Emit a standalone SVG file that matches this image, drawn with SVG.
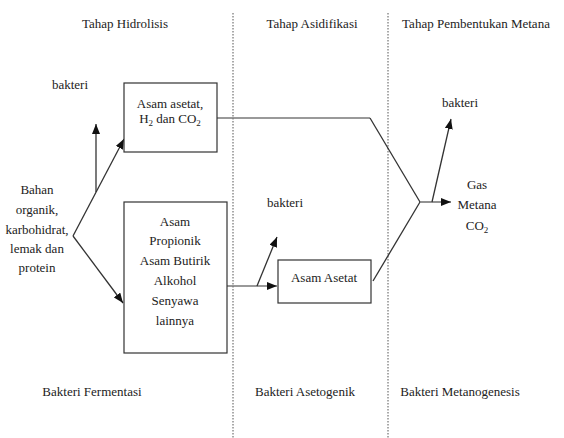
<svg xmlns="http://www.w3.org/2000/svg" width="564" height="438" viewBox="0 0 564 438" font-family="'Liberation Serif', 'DejaVu Serif', serif">
<style>
text{font-family:'Liberation Serif','DejaVu Serif',serif;font-size:13px;fill:#222;text-anchor:middle}
.box{fill:#fff;stroke:#333;stroke-width:1.2}
.div{stroke:#555;stroke-width:1;stroke-dasharray:1.5,1.5;fill:none}
.ln{stroke:#333;stroke-width:1.3;fill:none}
.gl{stroke:#777;stroke-width:1.6;fill:none}
</style>
<defs>
<marker id="ah" markerUnits="userSpaceOnUse" markerWidth="10" markerHeight="8" refX="10" refY="4" orient="auto">
<path d="M0,0 L10,4 L0,8 z" fill="#111"/>
</marker>
</defs>
<rect width="564" height="438" fill="#fff"/>
<g id="dividers">
<line class="div" x1="233" y1="13" x2="233" y2="438"/>
<line class="div" x1="388" y1="13" x2="388" y2="438"/>
</g>
<g id="headers">
<text x="125" y="28">Tahap Hidrolisis</text>
<text x="312" y="28">Tahap Asidifikasi</text>
<text x="476" y="28">Tahap Pembentukan Metana</text>
</g>
<g id="connectors">
<line class="ln" x1="73" y1="236" x2="124" y2="139" marker-end="url(#ah)"/>
<line class="ln" x1="96" y1="192" x2="96" y2="124" marker-end="url(#ah)"/>
<line class="ln" x1="73" y1="236" x2="123" y2="303" marker-end="url(#ah)"/>
<polyline class="gl" points="217,118 370,118"/>
<polyline class="ln" points="370,118 420,202"/>
<line class="gl" x1="227" y1="286" x2="277" y2="286" marker-end="url(#ah)"/>
<line class="ln" x1="257" y1="286" x2="277" y2="237" marker-end="url(#ah)"/>
<line class="ln" x1="373" y1="281" x2="420" y2="202"/>
<line class="gl" x1="420" y1="202" x2="451" y2="202" marker-end="url(#ah)"/>
<line class="ln" x1="432" y1="202" x2="451" y2="119" marker-end="url(#ah)"/>
</g>
<g id="bahan">
<text x="37" y="194">Bahan</text>
<text x="37" y="214">organik,</text>
<text x="37" y="234">karbohidrat,</text>
<text x="37" y="253">lemak dan</text>
<text x="37" y="272">protein</text>
</g>
<g id="bakteri1"><text x="70" y="89">bakteri</text></g>
<g id="box1">
<rect class="box" x="124" y="83" width="93" height="69"/>
<text x="170" y="108">Asam asetat,</text>
<text x="170" y="123">H<tspan font-size="9" dy="3">2</tspan><tspan dy="-3"> dan CO</tspan><tspan font-size="9" dy="3">2</tspan></text>
</g>
<g id="box2">
<rect class="box" x="124" y="202" width="103" height="151"/>
<text x="175" y="226">Asam</text>
<text x="175" y="245">Propionik</text>
<text x="175" y="265">Asam Butirik</text>
<text x="175" y="285">Alkohol</text>
<text x="175" y="305">Senyawa</text>
<text x="175" y="325">lainnya</text>
</g>
<g id="bakteri2"><text x="285" y="207">bakteri</text></g>
<g id="box3">
<rect class="box" x="278" y="260" width="93" height="43"/>
<text x="324" y="282">Asam Asetat</text>
</g>
<g id="bakteri3"><text x="460" y="107">bakteri</text></g>
<g id="gas">
<text x="477" y="189">Gas</text>
<text x="477" y="209">Metana</text>
<text x="477" y="230">CO<tspan font-size="9" dy="3">2</tspan></text>
</g>
<g id="footers">
<text x="92" y="396">Bakteri Fermentasi</text>
<text x="305" y="396">Bakteri Asetogenik</text>
<text x="460" y="396">Bakteri Metanogenesis</text>
</g>
</svg>
